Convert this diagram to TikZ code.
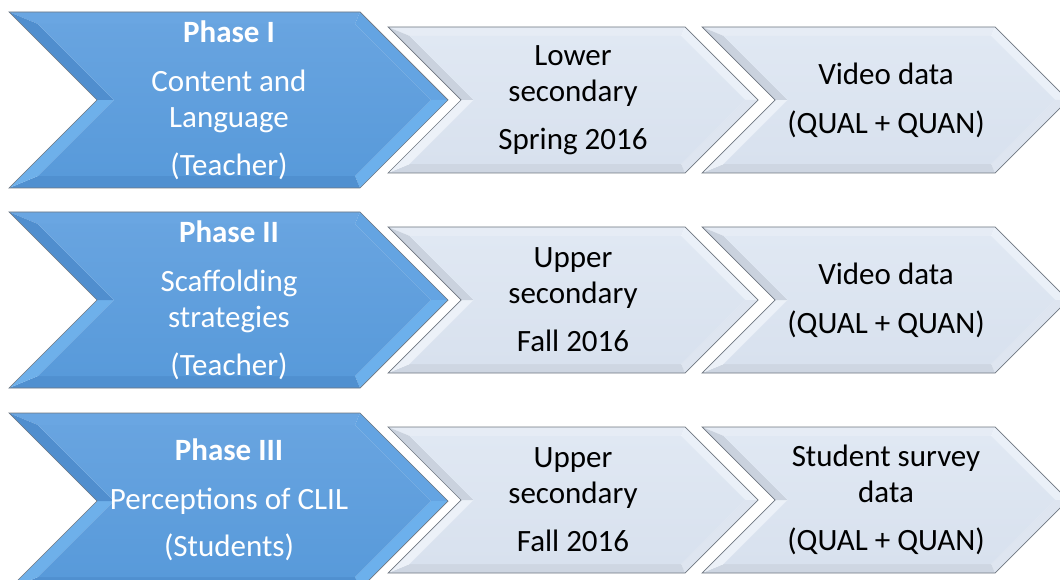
\documentclass[tikz,border=0pt]{standalone}
\usepackage{fontspec}
\setmainfont{Carlito}
\definecolor{bluetop}{RGB}{104,164,224}
\definecolor{bluebot}{RGB}{88,154,218}
\definecolor{blueT}{RGB}{106,166,226}
\definecolor{blueUR}{RGB}{100,164,226}
\definecolor{blueLR}{RGB}{108,176,236}
\definecolor{blueB}{RGB}{80,144,208}
\definecolor{blueUN}{RGB}{80,142,206}
\definecolor{blueLN}{RGB}{110,176,234}
\definecolor{paletop}{RGB}{224,232,243}
\definecolor{palebot}{RGB}{216,225,238}
\definecolor{paleT}{RGB}{230,236,245}
\definecolor{paleUR}{RGB}{234,240,248}
\definecolor{paleLR}{RGB}{222,229,240}
\definecolor{paleB}{RGB}{206,214,226}
\definecolor{paleUN}{RGB}{202,210,222}
\definecolor{paleLN}{RGB}{236,241,248}
\definecolor{edgegray}{RGB}{110,118,128}
\tikzset{
  phasetext/.style={text=white, align=center, inner sep=0pt,
    font=\fontsize{31}{36}\selectfont},
  infotext/.style={text=black, align=center, inner sep=0pt,
    font=\fontsize{31}{36}\selectfont},
}
% Bevelled chevron: #1 left x, #2 top y, #3 body width, #4 height,
% #5 bevel width, #6 colour prefix (blue / pale)
\newcommand\bevelchevron[6]{%
  \pgfmathsetmacro\hh{#4/2}%
  \pgfmathsetmacro\xR{#1+#3}%
  \pgfmathsetmacro\yB{#2+#4}%
  \pgfmathsetmacro\yM{#2+\hh}%
  \pgfmathsetmacro\xN{#1+\hh}%
  \pgfmathsetmacro\xT{\xR+\hh}%
  \pgfmathsetmacro\sh{#5*1.41421}%
  \pgfmathsetmacro\iL{#1+#5+\sh}%
  \pgfmathsetmacro\iR{\xR+#5-\sh}%
  \pgfmathsetmacro\iTop{#2+#5}%
  \pgfmathsetmacro\iBot{\yB-#5}%
  \pgfmathsetmacro\iT{\xT-\sh}%
  \pgfmathsetmacro\iN{\xN+\sh}%
  \coordinate (TL) at (#1,#2);
  \coordinate (TR) at (\xR,#2);
  \coordinate (T)  at (\xT,\yM);
  \coordinate (BR) at (\xR,\yB);
  \coordinate (BL) at (#1,\yB);
  \coordinate (N)  at (\xN,\yM);
  \coordinate (iTL) at (\iL,\iTop);
  \coordinate (iTR) at (\iR,\iTop);
  \coordinate (iT)  at (\iT,\yM);
  \coordinate (iBR) at (\iR,\iBot);
  \coordinate (iBL) at (\iL,\iBot);
  \coordinate (iN)  at (\iN,\yM);
  \fill[#6T]  (TL) -- (TR) -- (iTR) -- (iTL) -- cycle;
  \fill[#6UR] (TR) -- (T) -- (iT) -- (iTR) -- cycle;
  \fill[#6LR] (T) -- (BR) -- (iBR) -- (iT) -- cycle;
  \fill[#6B]  (BR) -- (BL) -- (iBL) -- (iBR) -- cycle;
  \fill[#6LN] (BL) -- (N) -- (iN) -- (iBL) -- cycle;
  \fill[#6UN] (N) -- (TL) -- (iTL) -- (iN) -- cycle;
  \shade[top color=#6top, bottom color=#6bot]
    (iTL) -- (iTR) -- (iT) -- (iBR) -- (iBL) -- (iN) -- cycle;
  \draw[edgegray, line width=0.7pt, line join=miter]
    (TL) -- (TR) -- (T) -- (BR) -- (BL) -- (N) -- cycle;
}
\begin{document}
\begin{tikzpicture}[x=1pt,y=-1pt]
\useasboundingbox (0,0) rectangle (1060,580);
\clip (0,0) rectangle (1060,580);

% Row 1
\bevelchevron{9}{12}{351}{176}{12}{blue}
\bevelchevron{388}{27}{297}{146}{9}{pale}
\bevelchevron{702}{27}{293}{146}{9}{pale}
% Row 2
\bevelchevron{9}{212}{351}{176}{12}{blue}
\bevelchevron{388}{227}{297}{146}{9}{pale}
\bevelchevron{702}{227}{293}{146}{9}{pale}
% Row 3
\bevelchevron{9}{413}{351}{176}{12}{blue}
\bevelchevron{388}{427}{297}{146}{9}{pale}
\bevelchevron{702}{427}{293}{146}{9}{pale}

\node[phasetext] (ph1) at (229,100)
  {\textbf{Phase I}\\[13pt] Content and\\ Language\\[12pt] (Teacher)};
\node[infotext] (lv1) at (573,100)
  {Lower\\ secondary\\[12pt] Spring 2016};
\node[infotext] (dt1) at (886,100)
  {Video data\\[13pt] (QUAL + QUAN)};

\node[phasetext] (ph2) at (229,300)
  {\textbf{Phase II}\\[13pt] Scaffolding\\ strategies\\[12pt] (Teacher)};
\node[infotext] (lv2) at (573,300)
  {Upper\\ secondary\\[12pt] Fall 2016};
\node[infotext] (dt2) at (886,300)
  {Video data\\[13pt] (QUAL + QUAN)};

\node[phasetext] (ph3) at (229,500)
  {\textbf{Phase III}\\[13pt] Perceptions of CLIL\\[11pt] (Students)};
\node[infotext] (lv3) at (573,500)
  {Upper\\ secondary\\[12pt] Fall 2016};
\node[infotext] (dt3) at (886,500)
  {Student survey\\ data\\[12pt] (QUAL + QUAN)};
\end{tikzpicture}
\end{document}
